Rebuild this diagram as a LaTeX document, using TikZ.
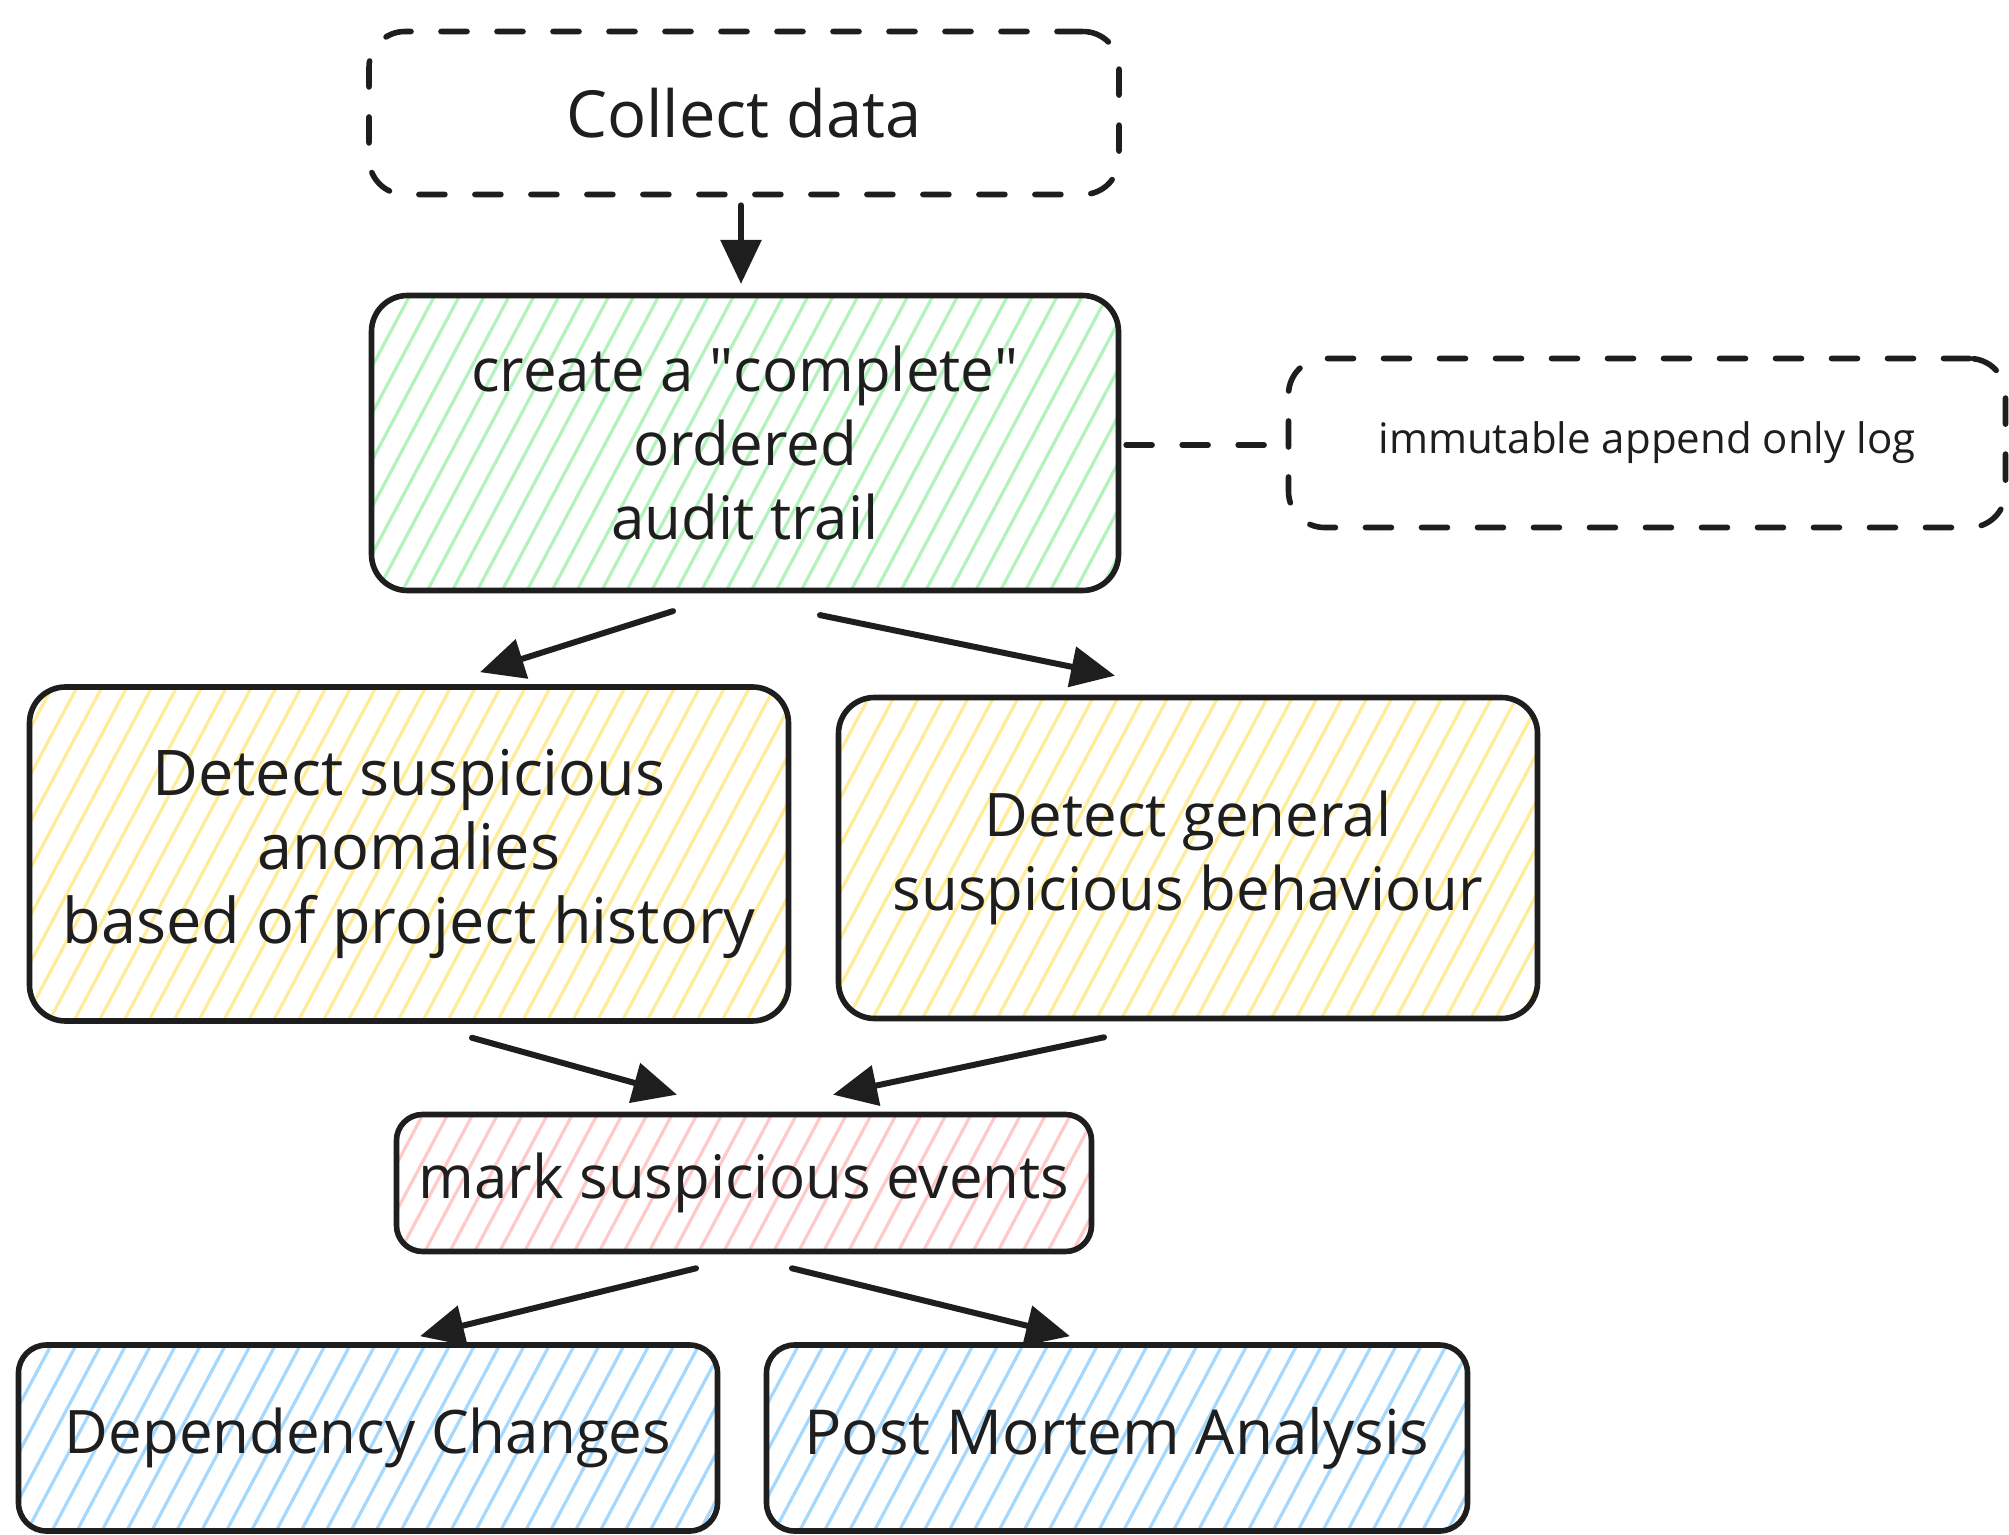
\documentclass[tikz,border=0pt]{standalone}
\usepackage{fontspec}
\setmainfont{Open Sans}
\usetikzlibrary{arrows.meta,patterns.meta,calc}
\definecolor{ink}{HTML}{1E1E1E}
\definecolor{hgreen}{HTML}{B2F2BB}
\definecolor{hyellow}{HTML}{FFEC99}
\definecolor{hred}{HTML}{FFC9C9}
\definecolor{hblue}{HTML}{A5D8FF}
\tikzset{
  box/.style={draw=ink, line width=2.8pt, rounded corners=18pt, align=center,
    inner sep=0pt, text=ink, font=\fontsize{30}{37}\selectfont},
  hatch/.style={pattern={Lines[angle=62,distance=11pt,line width=1.6pt]}, pattern color=#1},
  dbox/.style={draw=ink, line width=2.8pt, dash pattern=on 13pt off 15pt, line cap=round,
    rounded corners=18pt, align=center, inner sep=0pt, text=ink},
  dline/.style={draw=ink, line width=2.8pt, dash pattern=on 13pt off 15pt, line cap=round},
  arr/.style={draw=ink, line width=3pt, line cap=round, -{Triangle[length=22pt,width=20pt]}}
}
\begin{document}
\begin{tikzpicture}[x=0.5pt,y=-0.5pt]
\fill[white] (0,0) rectangle (2009,1535);
\useasboundingbox (0,0) rectangle (2009,1535);

\node[dbox, font=\fontsize{32.5}{40}\selectfont, minimum width=375pt, minimum height=81.5pt] (collect) at (744,113) {Collect data};
\node[box, hatch=hgreen, minimum width=373.5pt, minimum height=147.5pt] (audit) at (745,443) {create a \textquotedbl complete\textquotedbl\\ordered\\audit trail};
\node[dbox, font=\fontsize{21}{26}\selectfont, minimum width=358.5pt, minimum height=84.5pt] (log) at (1647,443) {immutable append only log};
\node[box, hatch=hyellow, font=\fontsize{31.5}{37}\selectfont, minimum width=379.5pt, minimum height=167pt] (yl) at (409,854) {Detect suspicious\\anomalies\\based of project history};
\node[box, hatch=hyellow, minimum width=349.5pt, minimum height=160.5pt] (yr) at (1188,858) {Detect general\\suspicious behaviour};
\node[box, hatch=hred, rounded corners=13pt, minimum width=347.5pt, minimum height=68.5pt] (mark) at (744,1183) {mark suspicious events};
\node[box, hatch=hblue, rounded corners=14pt, minimum width=349.5pt, minimum height=93pt] (dep) at (368,1438) {Dependency Changes};
\node[box, hatch=hblue, font=\fontsize{31}{37}\selectfont, rounded corners=14pt, minimum width=350.5pt, minimum height=93pt] (pm) at (1117,1438) {Post Mortem Analysis};

\draw[arr] ($(collect.south)+(-3,8)$) -- ($(audit.north)+(-4,-10)$);
\draw[dline] ($(audit.east)+(6,2)$) -- ($(log.west)+(-3,2)$);
\draw[arr] ($(audit.south)+(-72,19)$) -- ($(yl.north)+(71,-12)$);
\draw[arr] ($(audit.south)+(75,23)$) -- ($(yr.north)+(-73,-19)$);
\draw[arr] ($(yl.south)+(63,14)$) -- ($(mark.north)+(-67,-17)$);
\draw[arr] ($(yr.south)+(-84,16)$) -- ($(mark.north)+(89,-17)$);
\draw[arr] ($(mark.south)+(-48,14)$) -- ($(dep.north)+(52,-6)$);
\draw[arr] ($(mark.south)+(48,14)$) -- ($(pm.north)+(-47,-6)$);
\end{tikzpicture}
\end{document}
